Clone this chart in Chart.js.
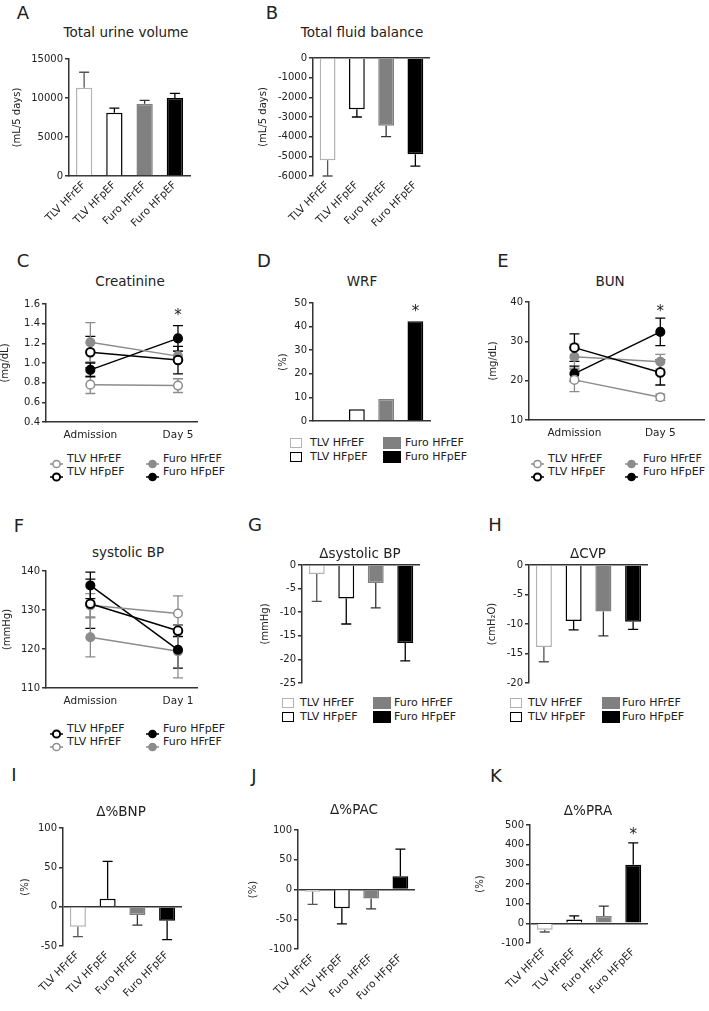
<!DOCTYPE html>
<html>
<head>
<meta charset="utf-8">
<script src="https://cdn.jsdelivr.net/npm/chart.js@4.4.1/dist/chart.umd.min.js"></script>
<style>
  body { margin: 0; background: #fff; }
  #fig { position: relative; width: 709px; height: 1011px; overflow: hidden; font-family: 'DejaVu Sans', sans-serif; color: #222; }
  #fig canvas { position: absolute; }
  .lbl { position: absolute; white-space: nowrap; line-height: 1; transform: translate(-50%, -50%); }
  .letter { font-size: 18px; }
  .title { font-size: 13.5px; }
  .leg { position: absolute; font-size: 11px; line-height: 14px; white-space: nowrap; }
  .mk { position: absolute; box-sizing: border-box; }
</style>
</head>
<body>
<div id="fig"></div>
<script>
// groups used by every panel
const groups = ['TLV HFrEF', 'TLV HFpEF', 'Furo HFrEF', 'Furo HFpEF'];

// A / B
const urineVolume = [11300, 8100, 9250, 10000];
const urineVolumeSem = [2000, 600, 450, 600];
const fluidBalance = [-5200, -2600, -3450, -4900];
const fluidBalanceSem = [800, 400, 550, 600];

// D
const wrf = [0, 5, 9.3, 42.3];

// C / E : admission vs day 5
const timesDay5 = ['Admission', 'Day 5'];
const creatTlvHFrEF = [0.78, 0.77], creatTlvHFrEFSem = [0.09, 0.07];
const creatTlvHFpEF = [1.11, 1.03], creatTlvHFpEFSem = [0.16, 0.14];
const creatFuroHFrEF = [1.21, 1.07], creatFuroHFrEFSem = [0.20, 0.05];
const creatFuroHFpEF = [0.93, 1.25], creatFuroHFpEFSem = [0.07, 0.13];

const bunTlvHFrEF = [20.2, 15.8], bunTlvHFrEFSem = [3.0, 0.8];
const bunTlvHFpEF = [28.4, 22.1], bunTlvHFpEFSem = [3.5, 3.2];
const bunFuroHFrEF = [26.1, 24.8], bunFuroHFrEFSem = [3.2, 1.9];
const bunFuroHFpEF = [21.8, 32.4], bunFuroHFpEFSem = [1.9, 3.5];

// F : admission vs day 1
const timesDay1 = ['Admission', 'Day 1'];
const sbpTlvHFpEF = [131.6, 124.7], sbpTlvHFpEFSem = [6.3, 1.5];
const sbpTlvHFrEF = [131.2, 129.1], sbpTlvHFrEFSem = [3.0, 4.5];
const sbpFuroHFpEF = [136.3, 119.8], sbpFuroHFpEFSem = [3.4, 4.7];
const sbpFuroHFrEF = [123.0, 119.4], sbpFuroHFrEFSem = [5.0, 6.8];

// G / H
const dSbp = [-1.9, -7.1, -3.8, -16.5];
const dSbpSem = [5.8, 5.4, 5.3, 3.8];
const dCvp = [-13.9, -9.5, -7.9, -9.6];
const dCvpSem = [2.5, 1.5, 4.1, 1.3];

// I / J / K
const dBnp = [-25.6, 10.2, -10.7, -17.9];
const dBnpSem = [12.4, 47.3, 12.7, 24.1];
const dPac = [-3.9, -31.4, -15, 22.4];
const dPacSem = [21.1, 26.3, 17.5, 45.6];
const dPra = [-32, 19, 37.5, 298];
const dPraSem = [12, 18.5, 49.5, 111];

// styles
const AXIS = '#333';
const PAD_T = 9, PAD_R = 4, CAP = 5;
const barFill = ['#ffffff', '#ffffff', '#808080', '#000000'];
const barEdge = ['#b3b3b3', '#000000', '#808080', '#000000'];
const barErr = ['#555555', '#000000', '#333333', '#000000'];
const lineSty = [
  { line: '#8c8c8c', fill: '#ffffff', bw: 1.5 },
  { line: '#000000', fill: '#ffffff', bw: 2 },
  { line: '#8c8c8c', fill: '#8c8c8c', bw: 1.5 },
  { line: '#000000', fill: '#000000', bw: 1.5 }
];

// plot areas in page pixels (axis lines), y-axis block width and x-axis block height
const BOX = {
  A: { l: 69, r: 190, t: 59, b: 176, yw: 58, xh: 70 },
  B: { l: 313, r: 430, t: 58, b: 176, yw: 56, xh: 70 },
  C: { l: 46, r: 200, t: 304, b: 422, yw: 47, xh: 22 },
  D: { l: 313, r: 430, t: 303, b: 421, yw: 36, xh: 8 },
  E: { l: 529, r: 707, t: 302, b: 420, yw: 42, xh: 22 },
  F: { l: 46, r: 200, t: 571, b: 688, yw: 45, xh: 22 },
  G: { l: 302, r: 420, t: 565, b: 683, yw: 43, xh: 8 },
  H: { l: 529, r: 648, t: 565, b: 683, yw: 43, xh: 8 },
  I: { l: 63, r: 182, t: 828, b: 946, yw: 44, xh: 62 },
  J: { l: 298, r: 415, t: 830, b: 949, yw: 51, xh: 60 },
  K: { l: 530, r: 648, t: 825, b: 943, yw: 56, xh: 66 }
};

Chart.defaults.font.family = "'DejaVu Sans', sans-serif";
Chart.defaults.color = '#222';

function drawErr(chart, both) {
  const { ctx, scales: { y } } = chart;
  chart.data.datasets.forEach((ds, i) => {
    if (!ds.sem) return;
    chart.getDatasetMeta(i).data.forEach((el, j) => {
      const raw = ds.data[j];
      const v = typeof raw === 'object' ? raw.y : raw;
      const e = ds.sem[j];
      const ends = both ? [v - e, v + e] : [v, v + (v < 0 ? -e : e)];
      const p = ends.map(val => y.getPixelForValue(val));
      ctx.save();
      ctx.strokeStyle = Array.isArray(ds.errColor) ? ds.errColor[j] : ds.errColor;
      ctx.lineWidth = 1.3;
      ctx.beginPath();
      ctx.moveTo(el.x, p[0]); ctx.lineTo(el.x, p[1]);
      ctx.moveTo(el.x - CAP, p[1]); ctx.lineTo(el.x + CAP, p[1]);
      if (both) { ctx.moveTo(el.x - CAP, p[0]); ctx.lineTo(el.x + CAP, p[0]); }
      ctx.stroke();
      ctx.restore();
    });
  });
}

const errorBars = {
  id: 'errorBars',
  beforeDatasetsDraw(chart) { if (chart.config.type === 'line') drawErr(chart, true); },
  afterDatasetsDraw(chart) { if (chart.config.type === 'bar') drawErr(chart, false); }
};

// significance asterisks
const stars = {
  id: 'stars',
  defaults: { marks: [] },
  afterDatasetsDraw(chart, args, opts) {
    const { ctx, scales: { x, y } } = chart;
    ctx.save();
    ctx.fillStyle = '#222';
    ctx.font = "15px 'DejaVu Sans'";
    ctx.textAlign = 'center';
    ctx.textBaseline = 'alphabetic';
    opts.marks.forEach(m => ctx.fillText('*', x.getPixelForValue(m.at), y.getPixelForValue(m.v) + 8));
    ctx.restore();
  }
};
Chart.register(errorBars, stars);

const fig = document.getElementById('fig');

function place(box) {
  const c = document.createElement('canvas');
  c.width = box.r - box.l + box.yw + PAD_R;
  c.height = box.b - box.t + PAD_T + box.xh;
  c.style.left = (box.l - box.yw) + 'px';
  c.style.top = (box.t - PAD_T) + 'px';
  fig.appendChild(c);
  return c;
}

function yAxis(box, y) {
  return {
    min: y.min, max: y.max,
    ticks: { stepSize: y.step, padding: 2, font: { size: 10 }, autoSkip: false,
      callback: y.fmt || (v => String(v)) },
    border: { display: true, color: AXIS, width: 1.5 },
    grid: {
      drawOnChartArea: !!y.zero, drawTicks: true, tickLength: 4, tickColor: AXIS, tickWidth: 1.5, lineWidth: 1.5,
      color: c => (y.zero && c.tick && c.tick.value === 0) ? AXIS : 'rgba(0,0,0,0)'
    },
    title: { display: true, text: y.title, padding: 0, font: { size: 10 } },
    afterFit: s => { s.width = box.yw; s.paddingTop = 0; s.paddingBottom = 0; }
  };
}

function baseOptions(box, xScale, y, marks) {
  return {
    responsive: false, animation: false,
    layout: { padding: { top: PAD_T, right: PAD_R, left: 0, bottom: 0 } },
    plugins: { legend: { display: false }, tooltip: { enabled: false }, stars: { marks: marks || [] } },
    scales: { x: xScale, y: yAxis(box, y) }
  };
}

function barChart(box, values, sem, y, showLabels, marks) {
  const x = {
    type: 'category', offset: true,
    grid: { display: false, drawTicks: false },
    border: { display: !y.zero, color: AXIS, width: 1.5 },
    ticks: { display: showLabels, minRotation: 45, maxRotation: 45, padding: 3, font: { size: 10.5 }, autoSkip: false },
    afterFit: s => { s.height = box.xh; s.paddingLeft = 0; s.paddingRight = 0; }
  };
  return new Chart(place(box), {
    type: 'bar',
    data: {
      labels: groups,
      datasets: [{
        data: values, sem, errColor: barErr,
        backgroundColor: barFill, borderColor: barEdge, borderWidth: 1.5,
        categoryPercentage: 1, barPercentage: 0.54
      }]
    },
    options: baseOptions(box, x, y, marks)
  });
}

function lineChart(box, times, sets, y, xr, marks) {
  const x = {
    type: 'linear', min: xr[0], max: xr[1],
    grid: { display: false, drawTicks: false },
    border: { display: true, color: AXIS, width: 1.5 },
    afterBuildTicks: s => { s.ticks = times.map((t, k) => ({ value: k })); },
    ticks: { callback: v => times[v], padding: 7, font: { size: 10.5 }, maxRotation: 0, autoSkip: false },
    afterFit: s => { s.height = box.xh; s.paddingLeft = 0; s.paddingRight = 0; }
  };
  return new Chart(place(box), {
    type: 'line',
    data: {
      datasets: sets.map(s => ({
        label: groups[s.g],
        data: s.values.map((v, k) => ({ x: k, y: v })),
        sem: s.sem, errColor: lineSty[s.g].line,
        borderColor: lineSty[s.g].line, borderWidth: 1.5, fill: false,
        pointRadius: 4.3, pointBorderWidth: lineSty[s.g].bw,
        pointBackgroundColor: lineSty[s.g].fill, pointBorderColor: lineSty[s.g].line
      }))
    },
    options: baseOptions(box, x, y, marks)
  });
}

function text(cls, str, x, y) {
  const d = document.createElement('div');
  d.className = 'lbl ' + cls;
  d.textContent = str;
  d.style.left = x + 'px';
  d.style.top = y + 'px';
  fig.appendChild(d);
}

// 2x2 legends; order = group indices in row-major order
function legend(rows, cols, order, kind) {
  order.forEach((g, n) => {
    const ry = rows[Math.floor(n / 2)], col = cols[n % 2];
    let mk;
    if (kind === 'line') {
      const s = lineSty[g];
      mk = document.createElement('div');
      mk.className = 'mk';
      mk.innerHTML = '<svg width="13" height="10"><line x1="0" y1="5" x2="13" y2="5" stroke="' + s.line +
        '" stroke-width="1.5"/><circle cx="6.5" cy="5" r="3.6" fill="' + s.fill + '" stroke="' + s.line +
        '" stroke-width="' + s.bw + '"/></svg>';
      mk.style.left = col.mx + 'px';
      mk.style.top = (ry - 5) + 'px';
      mk.style.height = '10px';
    } else {
      mk = document.createElement('div');
      mk.className = 'mk';
      const h = g >= 2 ? col.mh2 : col.mh;
      const w = g >= 2 ? col.mw2 : col.mw;
      mk.style.left = col.mx + 'px';
      mk.style.top = (ry - h / 2) + 'px';
      mk.style.width = w + 'px';
      mk.style.height = h + 'px';
      mk.style.background = barFill[g];
      mk.style.border = '1.5px solid ' + barEdge[g];
    }
    fig.appendChild(mk);
    const t = document.createElement('div');
    t.className = 'leg';
    t.textContent = groups[g];
    t.style.left = col.tx + 'px';
    t.style.top = (ry - 7) + 'px';
    fig.appendChild(t);
  });
}

// A
barChart(BOX.A, urineVolume, urineVolumeSem, { min: 0, max: 15000, step: 5000, title: '(mL/5 days)' }, true);
// B
barChart(BOX.B, fluidBalance, fluidBalanceSem, { min: -6000, max: 0, step: 1000, title: '(mL/5 days)', zero: true }, true);
// C
lineChart(BOX.C, timesDay5, [
  { g: 0, values: creatTlvHFrEF, sem: creatTlvHFrEFSem },
  { g: 1, values: creatTlvHFpEF, sem: creatTlvHFpEFSem },
  { g: 2, values: creatFuroHFrEF, sem: creatFuroHFrEFSem },
  { g: 3, values: creatFuroHFpEF, sem: creatFuroHFpEFSem }
], { min: 0.4, max: 1.6, step: 0.2, title: '(mg/dL)', fmt: v => v.toFixed(1) }, [-0.506, 1.225], [{ at: 1, v: 1.52 }]);
// D
barChart(BOX.D, wrf, null, { min: 0, max: 50, step: 10, title: '(%)' }, false, [{ at: 3, v: 48 }]);
// E
lineChart(BOX.E, timesDay5, [
  { g: 0, values: bunTlvHFrEF, sem: bunTlvHFrEFSem },
  { g: 1, values: bunTlvHFpEF, sem: bunTlvHFpEFSem },
  { g: 2, values: bunFuroHFrEF, sem: bunFuroHFrEFSem },
  { g: 3, values: bunFuroHFpEF, sem: bunFuroHFpEFSem }
], { min: 10, max: 40, step: 10, title: '(mg/dL)' }, [-0.529, 1.517], [{ at: 1, v: 38.5 }]);
// F
lineChart(BOX.F, timesDay1, [
  { g: 1, values: sbpTlvHFpEF, sem: sbpTlvHFpEFSem },
  { g: 0, values: sbpTlvHFrEF, sem: sbpTlvHFrEFSem },
  { g: 3, values: sbpFuroHFpEF, sem: sbpFuroHFpEFSem },
  { g: 2, values: sbpFuroHFrEF, sem: sbpFuroHFrEFSem }
], { min: 110, max: 140, step: 10, title: '(mmHg)' }, [-0.506, 1.225]);
// G
barChart(BOX.G, dSbp, dSbpSem, { min: -25, max: 0, step: 5, title: '(mmHg)', zero: true }, false);
// H
barChart(BOX.H, dCvp, dCvpSem, { min: -20, max: 0, step: 5, title: '(cmH₂O)', zero: true }, false);
// I
barChart(BOX.I, dBnp, dBnpSem, { min: -50, max: 100, step: 50, title: '(%)', zero: true }, true);
// J
barChart(BOX.J, dPac, dPacSem, { min: -100, max: 100, step: 50, title: '(%)', zero: true }, true);
// K
barChart(BOX.K, dPra, dPraSem, { min: -100, max: 500, step: 100, title: '(%)', zero: true }, true, [{ at: 3, v: 469 }]);

// panel letters and titles
[['A', 23, 13], ['B', 272, 13], ['C', 23, 261], ['D', 264, 261], ['E', 503, 261], ['F', 19, 526],
 ['G', 255, 525], ['H', 495, 525], ['I', 14, 775], ['J', 254, 776], ['K', 496, 776]]
  .forEach(a => text('letter', a[0], a[1], a[2]));
[['Total urine volume', 126, 33], ['Total fluid balance', 362, 33], ['Creatinine', 130, 282],
 ['WRF', 362, 282], ['BUN', 610, 282], ['systolic BP', 128, 553], ['Δsystolic BP', 360, 554],
 ['ΔCVP', 588, 554], ['Δ%BNP', 121, 812], ['Δ%PAC', 354, 810], ['Δ%PRA', 588, 811]]
  .forEach(a => text('title', a[0], a[1], a[2]));

// legends
legend([459, 472], [{ mx: 50, tx: 67 }, { mx: 146, tx: 163 }], [0, 2, 1, 3], 'line');
legend([459, 472], [{ mx: 531, tx: 548 }, { mx: 625, tx: 643 }], [0, 2, 1, 3], 'line');
legend([729, 742], [{ mx: 50, tx: 67 }, { mx: 146, tx: 163 }], [1, 3, 0, 2], 'line');
legend([443, 457], [{ mx: 290, mw: 12, mh: 10, tx: 310 }, { mx: 383, mw2: 18, mh2: 12, tx: 405 }], [0, 2, 1, 3], 'box');
legend([703, 717], [{ mx: 282, mw: 12, mh: 10, tx: 300 }, { mx: 373, mw2: 18, mh2: 12, tx: 394 }], [0, 2, 1, 3], 'box');
legend([703, 717], [{ mx: 510, mw: 12, mh: 10, tx: 528 }, { mx: 602, mw2: 18, mh2: 12, tx: 622 }], [0, 2, 1, 3], 'box');
</script>
</body>
</html>
